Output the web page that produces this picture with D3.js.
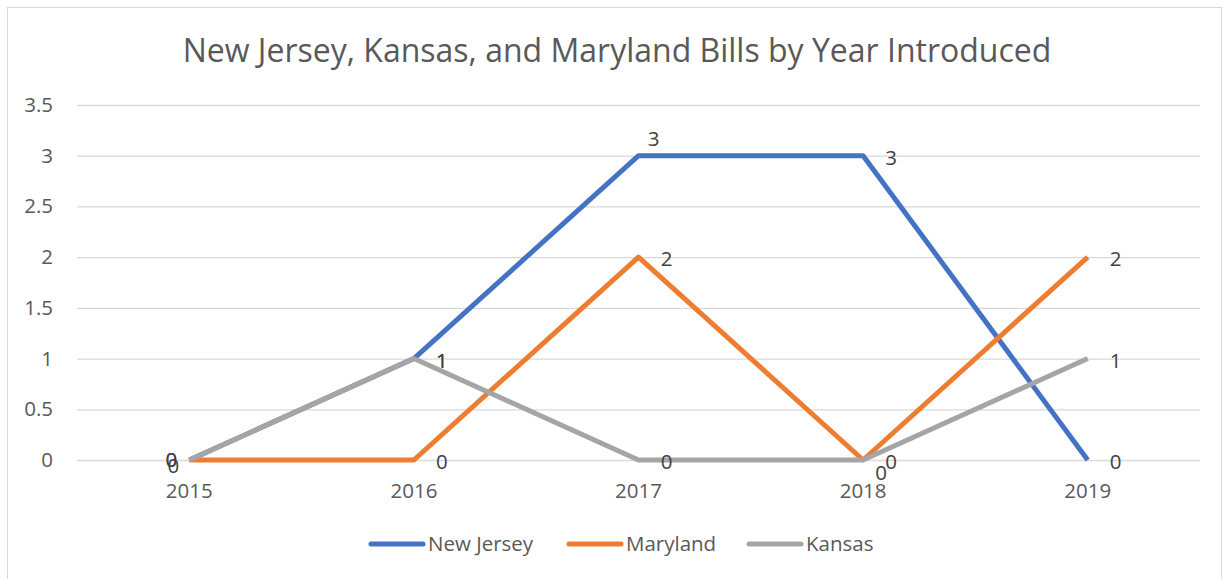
<!DOCTYPE html>
<html lang="en">
<head>
    <meta charset="utf-8">
    <script src="https://cdn.jsdelivr.net/npm/d3@7/dist/d3.min.js"></script>
    <style>
        body { margin: 0; background: #fff; }
        text { font-family: "Open Sans", Lato, sans-serif; }
    </style>
</head>
<body>
<script>
    var years = ['2015', '2016', '2017', '2018', '2019'];
    var newJersey = [0, 1, 3, 3, 0];
    var maryland = [0, 0, 2, 0, 2];
    var kansas = [0, 1, 0, 0, 1];
    var yTicks = [0, 0.5, 1, 1.5, 2, 2.5, 3, 3.5];
    var seriesNames = ['New Jersey', 'Maryland', 'Kansas'];
    // where each data label sits relative to its point
    var njLabelPos = ['left', 'right', 'top', 'right', 'right'];
    var mdLabelPos = ['left2', 'right', 'right', 'below', 'right'];
    var ksLabelPos = ['left', 'right', 'right', 'right', 'right'];

    var width = 1223, height = 579;
    var colors = ['#4472C4', '#ED7D31', '#A5A5A5'];

    var series = [
        {name: seriesNames[0], values: newJersey, pos: njLabelPos, color: colors[0]},
        {name: seriesNames[1], values: maryland, pos: mdLabelPos, color: colors[1]},
        {name: seriesNames[2], values: kansas, pos: ksLabelPos, color: colors[2]}
    ];

    var svg = d3.select('body')
            .append('svg')
            .attr('width', width)
            .attr('height', height);

    svg.append('rect')
            .attr('x', 7.5).attr('y', 7.5)
            .attr('width', 1214).attr('height', 580)
            .attr('fill', '#fff')
            .attr('stroke', '#d9d9d9');

    svg.append('text')
            .attr('x', 617).attr('y', 62)
            .attr('text-anchor', 'middle')
            .attr('font-size', 32)
            .attr('fill', '#595959')
            .text('New Jersey, Kansas, and Maryland Bills by Year Introduced');

    var x = d3.scaleBand().domain(years).range([77, 1200]);
    var y = d3.scaleLinear().domain([0, 3.5]).range([460, 105]);

    function px(i) { return x(years[i]) + x.bandwidth() / 2; }

    var yAxis = svg.append('g')
            .attr('transform', 'translate(77,0)')
            .call(d3.axisLeft(y).tickValues(yTicks).tickSize(-1123).tickPadding(24)
                    .tickFormat(function (d) { return d; }));
    yAxis.select('.domain').remove();
    yAxis.selectAll('line').attr('stroke', '#d9d9d9').attr('stroke-width', 1.3);
    yAxis.selectAll('text')
            .attr('font-size', 20.5)
            .attr('fill', '#595959');

    var xAxis = svg.append('g')
            .attr('transform', 'translate(0,460)')
            .call(d3.axisBottom(x).tickSize(0).tickPadding(23));
    xAxis.select('.domain').remove();
    xAxis.selectAll('text')
            .attr('font-size', 20.5)
            .attr('fill', '#595959');

    var line = d3.line()
            .x(function (d, i) { return px(i); })
            .y(function (d) { return y(d); });

    svg.selectAll('path.series')
            .data(series)
            .enter()
            .append('path')
            .attr('class', 'series')
            .attr('d', function (d) { return line(d.values); })
            .attr('fill', 'none')
            .attr('stroke', function (d) { return d.color; })
            .attr('stroke-width', 5)
            .attr('stroke-linejoin', 'round');

    var offsets = {
        right: [28, 9],
        left: [-18, 7],
        left2: [-16, 13],
        top: [15, -10],
        below: [18, 20]
    };

    series.forEach(function (s) {
        svg.selectAll(null)
                .data(s.values)
                .enter()
                .append('text')
                .attr('x', function (d, i) { return px(i) + offsets[s.pos[i]][0]; })
                .attr('y', function (d, i) { return y(d) + offsets[s.pos[i]][1]; })
                .attr('text-anchor', 'middle')
                .attr('font-size', 20.5)
                .attr('fill', '#404040')
                .text(function (d) { return d; });
    });

    var legendX = [369, 567, 747];
    var legend = svg.selectAll('g.legend')
            .data(series)
            .enter()
            .append('g')
            .attr('class', 'legend')
            .attr('transform', function (d, i) { return 'translate(' + legendX[i] + ',544)'; });
    legend.append('line')
            .attr('x1', 2).attr('x2', 54)
            .attr('stroke', function (d) { return d.color; })
            .attr('stroke-width', 5)
            .attr('stroke-linecap', 'round');
    legend.append('text')
            .attr('x', 59).attr('y', 7)
            .attr('font-size', 20.5)
            .attr('fill', '#595959')
            .text(function (d) { return d.name; });
</script>
</body>
</html>
